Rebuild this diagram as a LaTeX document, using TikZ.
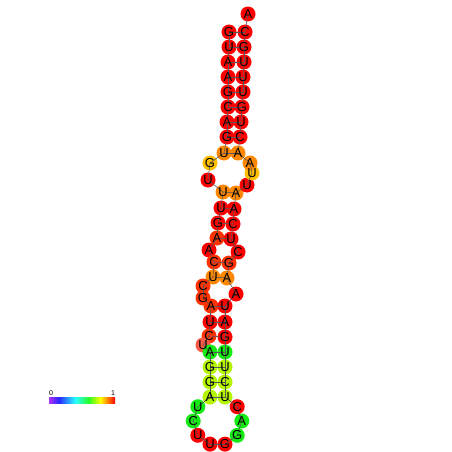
\documentclass[tikz,border=0pt]{standalone}
\usepackage{fontspec}
\setmainfont{Liberation Sans}
\definecolor{cR}{RGB}{255,0,0}
\definecolor{cRO}{RGB}{255,50,0}
\definecolor{cO}{RGB}{255,136,0}
\definecolor{cY}{RGB}{255,192,0}
\definecolor{cG}{RGB}{20,235,20}
\definecolor{cYG}{RGB}{180,245,0}
\definecolor{cL}{RGB}{255,90,70}
\definecolor{cbP}{RGB}{176,48,255}
\definecolor{cbB}{RGB}{40,40,255}
\definecolor{cbC}{RGB}{40,255,255}
\definecolor{cbG}{RGB}{40,255,40}
\definecolor{cbY}{RGB}{255,255,0}
\definecolor{cbR}{RGB}{255,0,0}
\pgfdeclarehorizontalshading{rbar}{100bp}{color(0bp)=(cbP); color(25bp)=(cbP); color(32.5bp)=(cbB); color(45bp)=(cbC); color(55bp)=(cbG); color(64bp)=(cbY); color(75bp)=(cbR); color(100bp)=(cbR)}
\tikzset{
  base/.style={circle, minimum size=15pt, inner sep=0pt, draw=none},
  letter/.style={inner sep=0pt, font=\fontsize{13}{13}\selectfont},
  bond/.style={draw=black!65, line width=0.6pt},
  barlabel/.style={inner sep=0pt, font=\fontsize{7}{7}\selectfont}
}
\begin{document}
\begin{tikzpicture}[x=1pt,y=-1pt]
\fill[white] (0,0) rectangle (452,452);
\useasboundingbox (0,0) rectangle (452,452);
\def\bases{1/229/32/G/cR, 2/229/47/U/cR, 3/228/62/A/cR, 4/228/77/A/cR, 5/228/92/G/cR,
 6/228/107/C/cR, 7/227/122/A/cR, 8/227/137/G/cR, 9/224/153/U/cO, 10/210/163/G/cY,
 11/208/180/U/cR, 12/223/192/U/cO, 13/221/208/U/cR, 14/218/223/G/cR, 15/217/238/A/cRO,
 16/209/250/A/cR, 17/214/262/C/cRO, 18/213/277/U/cO, 19/203/286/C/cRO, 20/203/298/G/cRO,
 21/211/306/A/cRO, 22/210/322/U/cR, 23/209/336/C/cRO, 24/203/345/U/cL, 25/210/352/A/cG,
 26/210/367/G/cYG, 27/210/382/G/cYG, 28/210/397/A/cYG,
 29/197.8/406.7/U/cG, 30/193.2/421/C/cG, 31/197.8/435.3/U/cR, 32/210/444.1/U/cR,
 33/225/444.1/G/cR, 34/237.2/435.3/G/cG, 35/241.8/421/A/cG, 36/237.2/406.7/C/cR,
 37/225/397/U/cYG, 38/225/382/C/cYG, 39/225/367/U/cYG, 40/225/352/U/cG,
 41/225/337/G/cR, 42/225/322/A/cR, 43/225/306/U/cR, 44/236/294/A/cR, 45/227/278/A/cO,
 46/229/263/G/cRO, 47/238/252/C/cR, 48/231/239/U/cR, 49/233/224/C/cR, 50/234/209/A/cR,
 51/236/193/A/cO, 52/247/185/U/cR, 53/252/173/U/cY, 54/250/163/A/cO, 55/238/153/A/cO,
 56/240/137/C/cR, 57/241/122/U/cR, 58/242/107/G/cR, 59/243/92/U/cR, 60/243/77/U/cR,
 61/244/62/U/cR, 62/244/47/G/cR, 63/245/32/C/cR, 64/248/14/A/cR}
% circles
\foreach \i/\x/\y/\l/\c in \bases {
  \node[base, fill=\c] (n\i) at (\x,\y) {};
}
% backbone
\foreach \i [evaluate=\i as \j using int(\i+1)] in {1,...,63} {
  \draw[bond] (n\i.center) -- (n\j.center);
}
% pairs
\foreach \a/\b in {1/63,2/62,3/61,4/60,5/59,6/58,7/57,8/56,9/55,12/51,13/50,14/49,15/48,17/46,18/45,21/43,22/42,23/41,25/40,26/39,27/38,28/37} {
  \draw[bond] (n\a.center) -- (n\b.center);
}
% letters
\foreach \i/\x/\y/\l/\c in \bases {
  \node[letter] (t\i) at (n\i.center) {\l};
}
% colour bar
\shade[shading=rbar] (49,397) rectangle (115,403);
\node[barlabel] (lab0) at (51,393) {0};
\node[barlabel] (lab1) at (113,393) {1};
\end{tikzpicture}
\end{document}
